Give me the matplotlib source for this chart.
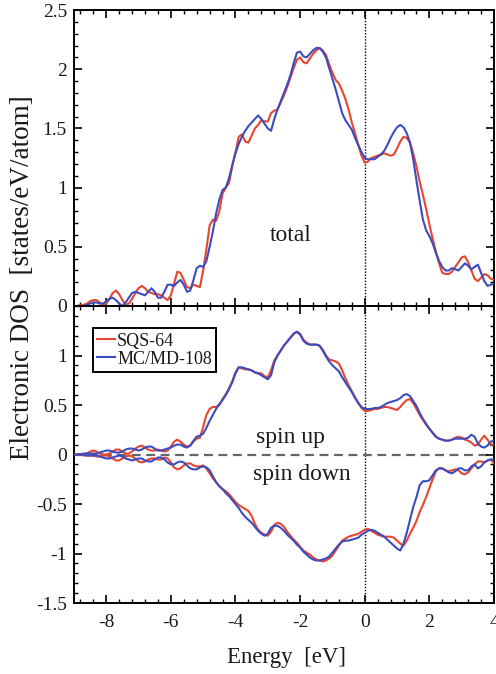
import numpy as np
import matplotlib
matplotlib.use("Agg")
import matplotlib.pyplot as plt
from matplotlib.ticker import MultipleLocator, FormatStrFormatter

plt.rcParams["font.family"] = ["Liberation Serif", "DejaVu Serif"]
plt.rcParams["axes.unicode_minus"] = False

# energy grid, 0.1 eV steps from -9 to 4 eV
energy = np.linspace(-9.0, 4.0, 131)

# total DOS [states/eV/atom]
total_sqs = [
    0.00, 0.00, 0.01, 0.01, 0.02, 0.04, 0.05, 0.05, 0.03, 0.01,
    0.02, 0.06, 0.11, 0.13, 0.10, 0.05, 0.01, 0.02, 0.06, 0.11,
    0.15, 0.17, 0.15, 0.12, 0.11, 0.10, 0.10, 0.09, 0.07, 0.05,
    0.09, 0.19, 0.29, 0.28, 0.22, 0.16, 0.15, 0.18, 0.17, 0.16,
    0.30, 0.48, 0.68, 0.73, 0.72, 0.80, 0.95, 1.00, 1.04, 1.18,
    1.30, 1.43, 1.45, 1.39, 1.38, 1.44, 1.50, 1.53, 1.57, 1.56,
    1.56, 1.63, 1.65, 1.66, 1.72, 1.78, 1.85, 1.93, 2.01, 2.08,
    2.10, 2.06, 2.05, 2.09, 2.13, 2.16, 2.18, 2.16, 2.12, 2.04,
    1.97, 1.91, 1.88, 1.82, 1.75, 1.66, 1.55, 1.46, 1.36, 1.27,
    1.21, 1.22, 1.25, 1.26, 1.27, 1.28, 1.29, 1.28, 1.27, 1.28,
    1.33, 1.39, 1.43, 1.42, 1.38, 1.29, 1.18, 1.05, 0.94, 0.82,
    0.69, 0.57, 0.46, 0.36, 0.28, 0.27, 0.27, 0.29, 0.33, 0.37,
    0.41, 0.42, 0.37, 0.30, 0.23, 0.21, 0.24, 0.27, 0.26, 0.23,
    0.22,
]
total_mcmd = [
    0.00, 0.00, 0.00, 0.00, 0.01, 0.02, 0.03, 0.03, 0.02, 0.02,
    0.04, 0.06, 0.07, 0.05, 0.02, 0.00, 0.03, 0.07, 0.11, 0.12,
    0.11, 0.10, 0.09, 0.12, 0.15, 0.12, 0.07, 0.07, 0.12, 0.18,
    0.18, 0.17, 0.20, 0.22, 0.18, 0.12, 0.13, 0.22, 0.32, 0.34,
    0.33, 0.38, 0.50, 0.63, 0.78, 0.90, 0.98, 1.00, 1.08, 1.19,
    1.29, 1.37, 1.43, 1.48, 1.52, 1.55, 1.58, 1.61, 1.58, 1.54,
    1.50, 1.48, 1.58, 1.66, 1.73, 1.80, 1.87, 1.95, 2.05, 2.14,
    2.15, 2.11, 2.10, 2.13, 2.16, 2.18, 2.18, 2.15, 2.10, 2.01,
    1.92, 1.83, 1.73, 1.63, 1.57, 1.53, 1.49, 1.42, 1.36, 1.30,
    1.25, 1.24, 1.24, 1.24, 1.26, 1.28, 1.31, 1.36, 1.42, 1.47,
    1.51, 1.53, 1.51, 1.46, 1.38, 1.24, 1.06, 0.89, 0.73, 0.64,
    0.59, 0.53, 0.45, 0.38, 0.33, 0.30, 0.30, 0.32, 0.31, 0.30,
    0.33, 0.36, 0.34, 0.31, 0.33, 0.35, 0.28, 0.21, 0.17, 0.18,
    0.19,
]

# spin-resolved DOS (down channel plotted as negative)
up_sqs = [
    0.00, 0.00, 0.00, 0.00, 0.01, 0.03, 0.04, 0.03, 0.01, 0.00,
    0.00, 0.01, 0.03, 0.05, 0.05, 0.03, 0.01, 0.01, 0.03, 0.06,
    0.08, 0.09, 0.07, 0.05, 0.04, 0.04, 0.05, 0.04, 0.03, 0.04,
    0.08, 0.13, 0.15, 0.13, 0.10, 0.08, 0.09, 0.13, 0.16, 0.17,
    0.28, 0.40, 0.46, 0.48, 0.48, 0.50, 0.56, 0.61, 0.67, 0.74,
    0.83, 0.88, 0.87, 0.86, 0.86, 0.85, 0.83, 0.82, 0.82, 0.79,
    0.78, 0.85, 0.95, 1.00, 1.05, 1.10, 1.14, 1.18, 1.22, 1.24,
    1.22, 1.16, 1.13, 1.11, 1.11, 1.11, 1.10, 1.06, 1.00, 0.96,
    0.95, 0.94, 0.92, 0.85, 0.77, 0.70, 0.64, 0.58, 0.52, 0.47,
    0.44, 0.44, 0.45, 0.46, 0.46, 0.47, 0.48, 0.48, 0.47, 0.46,
    0.45, 0.48, 0.52, 0.55, 0.56, 0.52, 0.46, 0.40, 0.35, 0.30,
    0.26, 0.22, 0.18, 0.16, 0.15, 0.14, 0.14, 0.15, 0.17, 0.18,
    0.17, 0.15, 0.14, 0.12, 0.09, 0.10, 0.15, 0.19, 0.15, 0.10,
    0.10,
]
up_mcmd = [
    0.00, 0.00, 0.00, 0.01, 0.01, 0.01, 0.01, 0.01, 0.02, 0.03,
    0.04, 0.04, 0.03, 0.02, 0.02, 0.03, 0.05, 0.06, 0.06, 0.05,
    0.04, 0.05, 0.07, 0.08, 0.08, 0.06, 0.04, 0.04, 0.05, 0.06,
    0.07, 0.09, 0.10, 0.10, 0.08, 0.07, 0.09, 0.14, 0.18, 0.19,
    0.21, 0.27, 0.34, 0.40, 0.46, 0.51, 0.55, 0.60, 0.66, 0.73,
    0.82, 0.88, 0.88, 0.87, 0.86, 0.85, 0.83, 0.82, 0.80, 0.78,
    0.76, 0.80, 0.93, 1.00, 1.05, 1.10, 1.14, 1.18, 1.22, 1.24,
    1.21, 1.15, 1.12, 1.11, 1.11, 1.11, 1.10, 1.05, 0.99, 0.94,
    0.90, 0.87, 0.84, 0.78, 0.73, 0.68, 0.63, 0.57, 0.52, 0.48,
    0.46, 0.46, 0.46, 0.47, 0.47, 0.48, 0.50, 0.52, 0.53, 0.54,
    0.55, 0.57, 0.60, 0.61, 0.59, 0.54, 0.49, 0.42, 0.36, 0.31,
    0.26, 0.22, 0.18, 0.16, 0.15, 0.14, 0.14, 0.15, 0.16, 0.16,
    0.16, 0.16, 0.17, 0.20, 0.18, 0.11, 0.08, 0.07, 0.09, 0.13,
    0.14,
]
down_sqs = [
    0.00, 0.00, 0.00, -0.01, -0.01, -0.01, -0.01, -0.02, -0.02, -0.01,
    -0.01, -0.02, -0.04, -0.06, -0.06, -0.04, -0.02, -0.01, -0.02, -0.04,
    -0.07, -0.08, -0.07, -0.05, -0.04, -0.04, -0.05, -0.05, -0.03, -0.04,
    -0.08, -0.13, -0.15, -0.14, -0.11, -0.09, -0.09, -0.11, -0.12, -0.12,
    -0.11, -0.14, -0.19, -0.24, -0.28, -0.32, -0.35, -0.37, -0.40, -0.44,
    -0.48, -0.51, -0.53, -0.55, -0.57, -0.62, -0.70, -0.76, -0.79, -0.81,
    -0.82, -0.78, -0.71, -0.69, -0.70, -0.73, -0.78, -0.82, -0.86, -0.89,
    -0.93, -0.97, -0.99, -1.01, -1.04, -1.06, -1.07, -1.08, -1.07, -1.05,
    -1.02, -0.97, -0.92, -0.87, -0.85, -0.83, -0.82, -0.81, -0.80, -0.78,
    -0.76, -0.75, -0.77, -0.79, -0.81, -0.82, -0.83, -0.83, -0.83, -0.84,
    -0.87, -0.90, -0.92, -0.87, -0.80, -0.74, -0.67, -0.58, -0.51, -0.43,
    -0.34, -0.25, -0.17, -0.14, -0.14, -0.16, -0.17, -0.16, -0.15, -0.16,
    -0.19, -0.20, -0.18, -0.14, -0.10, -0.07, -0.07, -0.08, -0.06, -0.05,
    -0.09,
]
down_mcmd = [
    0.00, 0.00, 0.00, 0.00, -0.01, -0.01, -0.01, -0.01, -0.02, -0.03,
    -0.04, -0.04, -0.03, -0.02, -0.01, -0.02, -0.04, -0.05, -0.06, -0.05,
    -0.04, -0.04, -0.06, -0.07, -0.07, -0.05, -0.03, -0.03, -0.05, -0.08,
    -0.10, -0.10, -0.08, -0.07, -0.08, -0.11, -0.14, -0.15, -0.15, -0.13,
    -0.12, -0.13, -0.16, -0.22, -0.28, -0.32, -0.35, -0.39, -0.42, -0.46,
    -0.50, -0.54, -0.59, -0.63, -0.66, -0.69, -0.73, -0.77, -0.80, -0.82,
    -0.80, -0.74, -0.72, -0.72, -0.74, -0.77, -0.81, -0.84, -0.87, -0.91,
    -0.94, -0.98, -1.01, -1.04, -1.06, -1.07, -1.07, -1.06, -1.05, -1.03,
    -0.99, -0.95, -0.91, -0.88, -0.87, -0.87, -0.86, -0.85, -0.84, -0.81,
    -0.79, -0.77, -0.76, -0.77, -0.79, -0.81, -0.83, -0.86, -0.89, -0.92,
    -0.95, -0.97, -0.90, -0.79, -0.66, -0.53, -0.43, -0.31, -0.27, -0.27,
    -0.26, -0.21, -0.16, -0.14, -0.14, -0.16, -0.18, -0.19, -0.17, -0.14,
    -0.14, -0.16, -0.16, -0.12, -0.10, -0.14, -0.12, -0.08, -0.06, -0.05,
    -0.05,
]

RED = "#e8452f"
BLUE = "#3b4cc0"
TXT = "#1a1a1a"
LW = 1.5

fig = plt.figure(figsize=(4.96, 6.74), dpi=100)
ax_top = fig.add_axes([0.149, 0.546, 0.847, 0.439])
ax_bot = fig.add_axes([0.149, 0.1053, 0.847, 0.4407], sharex=ax_top)


def style_axis(ax):
    for sp in ax.spines.values():
        sp.set_linewidth(1.4)
    ax.xaxis.set_major_locator(MultipleLocator(2))
    ax.xaxis.set_minor_locator(MultipleLocator(0.4))
    ax.yaxis.set_major_locator(MultipleLocator(0.5))
    ax.yaxis.set_minor_locator(MultipleLocator(0.1))
    ax.yaxis.set_major_formatter(FormatStrFormatter("%g"))
    ax.xaxis.set_major_formatter(FormatStrFormatter("%g"))
    ax.tick_params(which="both", direction="in", top=True, right=True,
                   colors="black", labelcolor=TXT, labelsize=14)
    ax.tick_params(which="major", length=6, width=1.2, pad=5)
    ax.tick_params(which="minor", length=3, width=1.0)
    ax.axvline(0, color="black", lw=1.0, ls=(0, (1, 1.2)), zorder=1)


# total DOS
style_axis(ax_top)
ax_top.plot(energy, total_sqs, color=RED, lw=LW, zorder=3)
ax_top.plot(energy, total_mcmd, color=BLUE, lw=LW, zorder=3)
ax_top.set_xlim(-9, 4)
ax_top.set_ylim(0, 2.5)
ax_top.tick_params(labelbottom=False)
ax_top.text(-2.3, 0.545, "total", ha="center", va="baseline",
            fontsize=17, color=TXT)

# spin-resolved DOS
style_axis(ax_bot)
ax_bot.axhline(0, color="#666666", lw=1.6, ls=(0, (4, 2.5)), zorder=1)
ax_bot.plot(energy, up_sqs, color=RED, lw=LW, zorder=3, label="SQS-64")
ax_bot.plot(energy, up_mcmd, color=BLUE, lw=LW, zorder=3, label="MC/MD-108")
ax_bot.plot(energy, down_sqs, color=RED, lw=LW, zorder=3)
ax_bot.plot(energy, down_mcmd, color=BLUE, lw=LW, zorder=3)
ax_bot.set_ylim(-1.5, 1.5)
ax_bot.set_yticks([-1.5, -1, -0.5, 0, 0.5, 1])
ax_bot.tick_params(axis="x", pad=8)
ax_bot.text(-2.3, 0.12, "spin up", ha="center", va="baseline",
            fontsize=17, color=TXT)
ax_bot.text(-1.94, -0.255, "spin down", ha="center", va="baseline",
            fontsize=17, color=TXT)

leg = ax_bot.legend(loc="upper left", bbox_to_anchor=(0.045, 0.925),
                    fontsize=13, handlelength=1.0, handletextpad=0.1,
                    borderpad=0.25, labelspacing=0.05, borderaxespad=0,
                    fancybox=False, framealpha=1)
leg.get_frame().set_edgecolor("black")
leg.get_frame().set_linewidth(1.4)
for t in leg.get_texts():
    t.set_color(TXT)

fig.text(0.046, 0.588, "Electronic DOS  [states/eV/atom]", rotation=90,
         ha="center", va="center", fontsize=19.5, color=TXT)
fig.text(0.577, 0.025, "Energy  [eV]", ha="center", va="center",
         fontsize=16.5, color=TXT)

fig.savefig("out.png", dpi=100)
